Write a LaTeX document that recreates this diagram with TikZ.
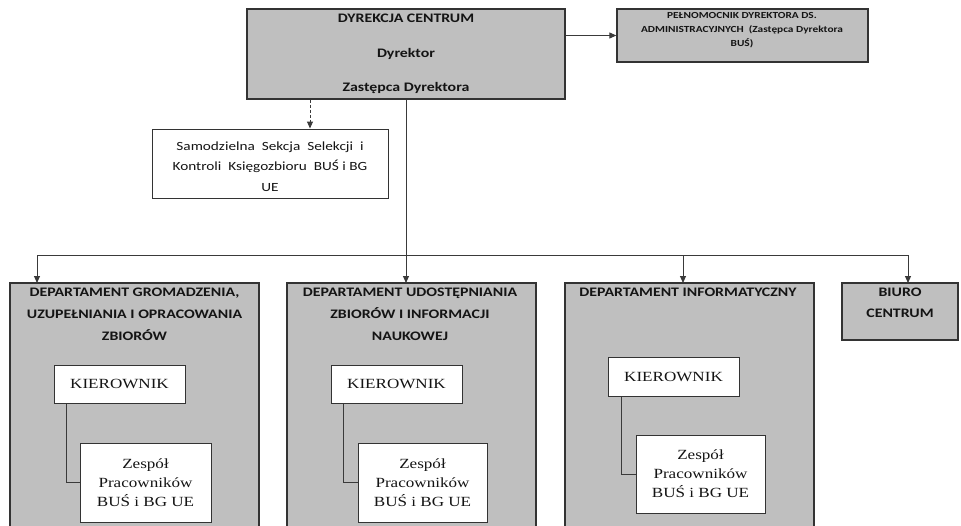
\documentclass[tikz,border=0pt]{standalone}
\usepackage{fontspec}
\setmainfont{Liberation Serif}[FakeStretch=1.22]
\newfontfamily\calfont{Carlito}[FakeStretch=1.22]
\newfontfamily\timfont{Liberation Serif}[FakeStretch=1.22]
\usetikzlibrary{arrows.meta,calc}
\definecolor{boxgray}{HTML}{BFBFBF}
\definecolor{boxline}{HTML}{333333}
\definecolor{lnc}{HTML}{3A3A3A}
\tikzset{
  sz/.style 2 args={minimum width=#1pt, minimum height=#2pt},
  gbox/.style={draw=boxline, fill=boxgray, line width=1.3pt, inner sep=0pt},
  wbox/.style={draw=boxline, fill=white, line width=1pt, inner sep=0pt},
  conn/.style={draw=lnc, line width=1pt},
  arr/.style={conn, -{Triangle[length=7pt,width=6pt]}},
  ttl/.style={inner sep=0pt, align=center, text=black!92},
  tbig/.style={font=\calfont\bfseries\fontsize{13}{22}\selectfont},
  tim/.style={font=\timfont\fontsize{14}{19}\selectfont, align=center, text=black!92},
}
\begin{document}
\begin{tikzpicture}[x=1pt,y=-1pt]
\useasboundingbox (0,0) rectangle (961,525);
\clip (0,0) rectangle (961,525);
% top
\node[gbox, sz={318}{90}, ttl, font=\calfont\bfseries\fontsize{13}{34.5}\selectfont] (dyr) at (406,54)
  {DYREKCJA CENTRUM\\Dyrektor\\Zastępca Dyrektora};
\node[gbox, sz={251}{53}] (pel) at (742.5,35.5) {};
\node[ttl, font=\calfont\bfseries\fontsize{9.3}{14}\selectfont] (pelt) at (742,30)
  {PEŁNOMOCNIK DYREKTORA DS.\\ADMINISTRACYJNYCH\ \ (Zastępca Dyrektora\\BUŚ)};
\node[wbox, sz={236}{69}] (sam) at (270,163.5) {};
\node[ttl, font=\calfont\fontsize{12.5}{20.5}\selectfont] (samt) at (270,166.5)
  {Samodzielna\ \ Sekcja\ \ Selekcji\ \ i\\Kontroli\ \ Księgozbioru\ \ BUŚ i BG\\UE};
% departments
\node[gbox, sz={249}{257}] (d1) at (134.5,411.5) {};
\node[gbox, sz={249}{257}] (d2) at (411.5,411.5) {};
\node[gbox, sz={249}{257}] (d3) at (689.5,411.5) {};
\node[gbox, sz={116}{57}] (bc) at (900,311.5) {};
\node[ttl, tbig] (d1t) at (134.5,314) {DEPARTAMENT GROMADZENIA,\\UZUPEŁNIANIA I OPRACOWANIA\\ZBIORÓW};
\node[ttl, tbig] (d2t) at (410,314) {DEPARTAMENT UDOSTĘPNIANIA\\ZBIORÓW I INFORMACJI\\NAUKOWEJ};
\node[ttl, tbig] (d3t) at (688,292) {DEPARTAMENT INFORMATYCZNY};
\node[ttl, font=\calfont\bfseries\fontsize{13}{21}\selectfont] (bct) at (900,302.5) {BIURO\\CENTRUM};
% kierownik / zespol
\node[wbox, sz={131}{38}, tim] (k1) at (119.5,384) {KIEROWNIK};
\node[wbox, sz={131}{38}, tim] (k2) at (396.5,384) {KIEROWNIK};
\node[wbox, sz={131}{39}, tim] (k3) at (673.5,376.5) {KIEROWNIK};
\node[wbox, sz={131}{79}, tim] (z1) at (145.5,482.5) {Zespół\\Pracowników\\BUŚ i BG UE};
\node[wbox, sz={129}{79}, tim] (z2) at (422.5,482.5) {Zespół\\Pracowników\\BUŚ i BG UE};
\node[wbox, sz={129}{78}, tim] (z3) at (700.5,474) {Zespół\\Pracowników\\BUŚ i BG UE};
\draw[conn] ($(k1.south west)+(13,0)$) |- (z1.west);
\draw[conn] ($(k2.south west)+(13,0)$) |- (z2.west);
\draw[conn] ($(k3.south west)+(14,0)$) |- (z3.west);
% connectors
\coordinate (bus) at (0,255);
\coordinate (a1) at (37,283);
\coordinate (a2) at (406,283);
\coordinate (a3) at (683,283);
\coordinate (a4) at (908,283);
\draw[arr] (pel.west -| dyr.east) -- (pel.west);
\path (sam.north) ++(40,0) coordinate (samin);
\draw[arr, dash pattern=on 3pt off 2pt] (samin |- dyr.south) -- (samin);
\draw[arr] (dyr.south) -- (a2);
\draw[conn, {Triangle[length=7pt,width=6pt]}-{Triangle[length=7pt,width=6pt]}] (a1) -- (a1 |- bus) -- (a4 |- bus) -- (a4);
\draw[arr] (a3 |- bus) -- (a3);
\end{tikzpicture}
\end{document}
